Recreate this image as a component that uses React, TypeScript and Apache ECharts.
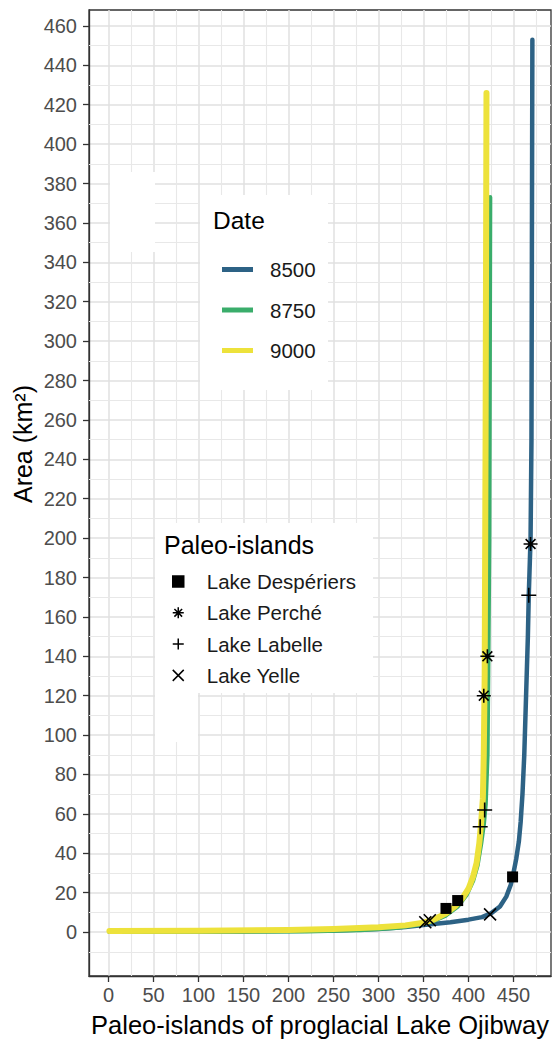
import React, { useEffect, useRef } from "react";
import * as echarts from "echarts";

const FONT = "'Liberation Sans', Arial, Helvetica, sans-serif";

// Date series (rank of island vs area, km²)
const dateNames = ["8500", "8750", "9000"];
const dateColors = ["#2d6285", "#3aad6b", "#ede23b"];
const dateWidths = [4.5, 4.5, 6];

const rank8500 = [1, 150, 250, 300, 330, 350, 380, 400, 415, 425, 435, 442, 447, 450, 453, 456, 458, 460, 462, 464, 466, 467, 469, 470, 471];
const area8500 = [0.3, 0.3, 0.8, 1.6, 2.6, 3.6, 5, 6.3, 7.6, 9.5, 13, 18, 24, 30, 37, 46, 56, 70, 90, 120, 150, 171, 200, 250, 453];

const rank8750 = [1, 150, 220, 280, 320, 345, 360, 375, 388, 398, 405, 410, 414, 417, 419, 421, 422, 423, 424];
const area8750 = [0.2, 0.3, 0.4, 1.0, 2.2, 3.8, 5.5, 8.5, 13, 19, 26, 34, 45, 55, 65, 90, 140, 200, 373];

const rank9000 = [1, 100, 200, 250, 300, 330, 350, 362, 375, 385, 393, 400, 405, 409, 412, 414, 416, 417, 418, 419, 420];
const area9000 = [0.6, 0.7, 1.0, 1.5, 2.4, 3.4, 4.8, 6.5, 9.5, 13, 17, 22, 28, 35, 45, 55, 68, 90, 130, 250, 426];

// Paleo-islands markers
const lakeNames = ["Lake Despériers", "Lake Perché", "Lake Labelle", "Lake Yelle"];
const desperiersRank = [375, 388, 449];
const desperiersArea = [12, 16, 28];
const percheRank = [417, 421, 469];
const percheArea = [120, 140, 197];
const labelleRank = [413, 418, 467];
const labelleArea = [53.5, 62, 171];
const yelleRank = [352, 357, 424];
const yelleArea = [5, 6, 9];

// Axis ticks
const xTicks = [0, 50, 100, 150, 200, 250, 300, 350, 400, 450];
const yTicks = [0, 20, 40, 60, 80, 100, 120, 140, 160, 180, 200, 220, 240, 260, 280, 300, 320, 340, 360, 380, 400, 420, 440, 460];
const xMinor = [25, 75, 125, 175, 225, 275, 325, 375, 425, 475];
const yMinor = [-10, 10, 30, 50, 70, 90, 110, 130, 150, 170, 190, 210, 230, 250, 270, 290, 310, 330, 350, 370, 390, 410, 430, 450];

const zip = (a: number[], b: number[]) => a.map((v, i) => [v, b[i]]);

const asteriskPath = "path://M0,5L10,5M5,0L5,10M1.5,1.5L8.5,8.5M8.5,1.5L1.5,8.5";
const plusPath = "path://M0,5L10,5M5,0L5,10";
const crossPath = "path://M0,0L10,10M10,0L0,10";

export default function App() {
  const ref = useRef<HTMLDivElement>(null);
  useEffect(() => {
    document.body.style.margin = "0";
    const chart = echarts.init(ref.current!, null, { renderer: "svg" });
    const dateData = [zip(rank8500, area8500), zip(rank8750, area8750), zip(rank9000, area9000)];
    const lakeData = [
      zip(desperiersRank, desperiersArea),
      zip(percheRank, percheArea),
      zip(labelleRank, labelleArea),
      zip(yelleRank, yelleArea),
    ];
    const lakeSymbols = ["rect", asteriskPath, plusPath, crossPath];
    const lakeSizes = [11, 14, 15, 12];

    const option: any = {
      animation: false,
      textStyle: { fontFamily: FONT },
      grid: {
        left: 89,
        top: 10,
        right: 3,
        bottom: 67,
        show: true,
        borderColor: "#333333",
        borderWidth: 1.3,
        backgroundColor: "#ffffff",
      },
      xAxis: {
        type: "value",
        min: -21.7,
        max: 491.7,
        splitNumber: 10,
        axisLine: { show: true, onZero: false, lineStyle: { color: "#333333", width: 1.3 } },
        axisTick: { show: true, length: 6, customValues: xTicks, lineStyle: { color: "#333333", width: 1.3 } },
        axisLabel: { customValues: xTicks, fontSize: 20, color: "#4d4d4d", margin: 9, fontFamily: FONT },
        splitLine: { show: true, lineStyle: { color: "#e0e0e0", width: 1.5 } },
        name: "Paleo-islands of proglacial Lake Ojibway",
        nameLocation: "middle",
        nameGap: 36,
        nameTextStyle: { fontSize: 25.5, color: "#000000", fontFamily: FONT },
      },
      yAxis: {
        type: "value",
        min: -22.3,
        max: 468.1,
        splitNumber: 25,
        axisLine: { show: true, onZero: false, lineStyle: { color: "#333333", width: 1.3 } },
        axisTick: { show: true, length: 6, customValues: yTicks, lineStyle: { color: "#333333", width: 1.3 } },
        axisLabel: { customValues: yTicks, fontSize: 20, color: "#4d4d4d", margin: 12, fontFamily: FONT },
        splitLine: { show: true, lineStyle: { color: "#e0e0e0", width: 1.5 } },
      },
      legend: [
        {
          data: dateNames,
          orient: "vertical",
          left: 217,
          top: 254,
          itemWidth: 31,
          itemHeight: 5,
          itemGap: 19.5,
          icon: "rect",
          selectedMode: false,
          z: 10,
          itemStyle: { borderWidth: 0 },
          textStyle: { fontSize: 20.5, color: "#1a1a1a", fontFamily: FONT, padding: [0, 0, 0, 12] },
        },
        {
          data: lakeNames,
          orient: "vertical",
          left: 167,
          top: 566,
          itemWidth: 11,
          itemHeight: 11,
          itemGap: 10.3,
          selectedMode: false,
          z: 10,
          itemStyle: { color: "#000000", borderColor: "#000000", borderWidth: 1.5 },
          textStyle: { fontSize: 20.5, color: "#1a1a1a", fontFamily: FONT, padding: [0, 0, 0, 18] },
        },
      ],
      graphic: [
        { type: "rect", z: 5, shape: { x: 200, y: 195, width: 128, height: 195 }, style: { fill: "#ffffff" } },
        { type: "rect", z: 5, shape: { x: 110, y: 172, width: 45, height: 80 }, style: { fill: "#ffffff" } },
        { type: "rect", z: 5, shape: { x: 155, y: 523, width: 218, height: 170 }, style: { fill: "#ffffff" } },
        { type: "rect", z: 5, shape: { x: 155, y: 690, width: 43, height: 52 }, style: { fill: "#ffffff" } },
        {
          type: "text",
          z: 11,
          x: 213,
          y: 220,
          style: { text: "Date", fontSize: 24.5, fontFamily: FONT, fill: "#000000", textVerticalAlign: "middle", verticalAlign: "middle" },
        },
        {
          type: "text",
          z: 11,
          x: 164,
          y: 545,
          style: { text: "Paleo-islands", fontSize: 25, fontFamily: FONT, fill: "#000000", textVerticalAlign: "middle", verticalAlign: "middle" },
        },
        {
          type: "text",
          z: 11,
          x: 23,
          y: 444,
          rotation: Math.PI / 2,
          style: {
            text: "Area (km²)",
            fontSize: 25,
            fontFamily: FONT,
            fill: "#000000",
            textAlign: "center",
            align: "center",
            textVerticalAlign: "middle",
            verticalAlign: "middle",
          },
        },
      ],
      series: [
        {
          name: "grid-minor",
          type: "line",
          data: [],
          silent: true,
          z: 1,
          markLine: {
            silent: true,
            z: 1,
            symbol: ["none", "none"],
            label: { show: false },
            animation: false,
            lineStyle: { color: "#e8e8e8", width: 1.1, type: "solid" },
            data: [...xMinor.map((v) => ({ xAxis: v })), ...yMinor.map((v) => ({ yAxis: v }))],
          },
        },
        ...dateNames.map((name, i) => ({
          name,
          type: "line",
          data: dateData[i],
          showSymbol: false,
          symbol: "none",
          z: 2 + i,
          color: dateColors[i],
          lineStyle: { color: dateColors[i], width: dateWidths[i], cap: "round", join: "round" },
          itemStyle: { color: dateColors[i] },
        })),
        ...lakeNames.map((name, i) => ({
          name,
          type: "scatter",
          data: lakeData[i],
          symbol: lakeSymbols[i],
          symbolSize: lakeSizes[i],
          z: 10,
          itemStyle: { color: "#000000", borderColor: "#000000", borderWidth: i === 0 ? 0 : 1.6, opacity: 1 },
        })),
      ],
    };
    chart.setOption(option);
    return () => chart.dispose();
  }, []);
  return <div ref={ref} style={{ width: 554, height: 1043 }} />;
}
